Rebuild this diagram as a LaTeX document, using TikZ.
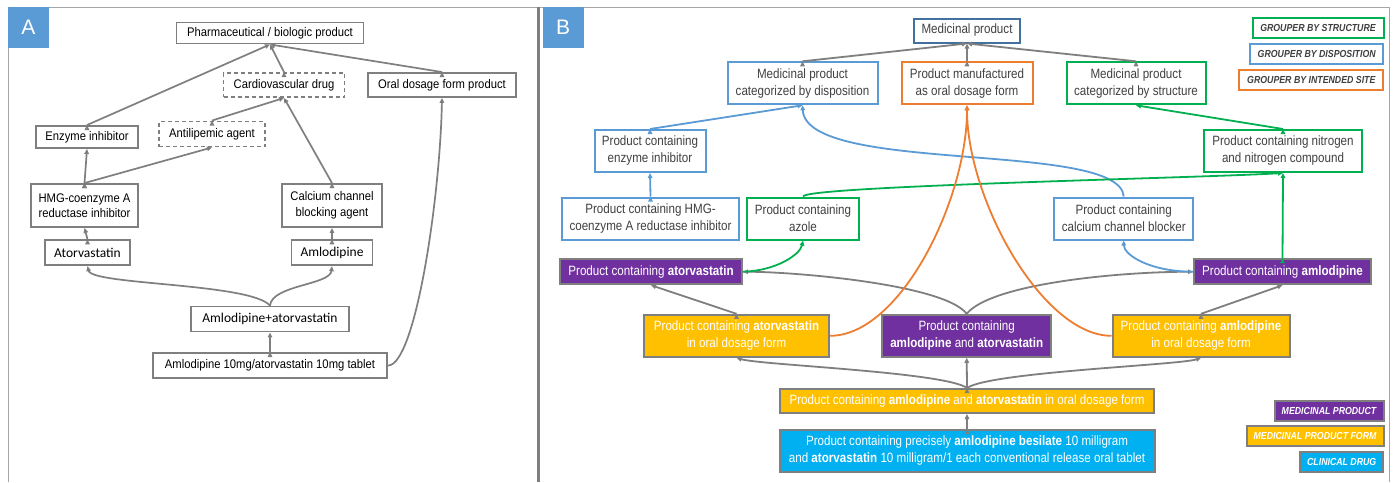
\documentclass[tikz,border=0pt]{standalone}
\usepackage{fontspec}
\setmainfont{Liberation Sans}
\newfontfamily\afont{Liberation Sans}[FakeStretch=0.9]
\newfontfamily\bfont{Liberation Sans}[FakeStretch=0.86]
\newfontfamily\calfont{Carlito}
\usetikzlibrary{arrows.meta}
\definecolor{edgegray}{HTML}{7F7F7F}
\definecolor{framegray}{HTML}{A6A6A6}
\definecolor{txtgray}{HTML}{404040}
\definecolor{labelblue}{HTML}{5B9BD5}
\definecolor{dispblue}{HTML}{5B9BD5}
\definecolor{structgreen}{HTML}{00B050}
\definecolor{siteorange}{HTML}{ED7D31}
\definecolor{mpblue}{HTML}{41719C}
\definecolor{mppurple}{HTML}{7030A0}
\definecolor{mpfyellow}{HTML}{FFC000}
\definecolor{cdcyan}{HTML}{00B0F0}

\begin{document}
\begin{tikzpicture}[x=1pt,y=-1pt]
	\tikzstyle{box_a} = [rectangle,draw=edgegray,line width=1.9pt,inner sep=1pt,align=center,text=black,font=\afont\fontsize{12.5}{15.5}\selectfont]
	\tikzstyle{box_c} = [box_a,font=\calfont\fontsize{13.5}{16}\selectfont]
	\tikzstyle{dash_a} = [box_a,dash pattern=on 4pt off 3pt]
	\tikzstyle{box_b} = [rectangle,line width=2pt,inner sep=1pt,align=center,text=txtgray,font=\bfont\fontsize{13.5}{17}\selectfont]
	\tikzstyle{fill_b} = [box_b,draw=edgegray,text=white]
	\tikzstyle{legend_b} = [rectangle,line width=2pt,inner sep=1pt,minimum height=20,text=txtgray,font=\bfont\fontsize{10.2}{12}\bfseries\itshape]
	\tikzstyle{label_box} = [rectangle,fill=labelblue,minimum width=41,minimum height=41,inner sep=0pt,text=white,font=\fontsize{21}{21}\selectfont]
	\tikzstyle{edge_a} = [draw=edgegray,line width=1.7pt,-{Triangle[length=5pt,width=4.5pt]}]
	\tikzstyle{edge_b} = [line width=1.8pt,-{Triangle[length=5pt,width=4.5pt]}]
	\useasboundingbox (0,0) rectangle (1400,482);
	\fill[white] (0,0) rectangle (1400,482);
	% frames
	\draw[framegray,line width=1pt] (8,482) -- (8,7) -- (1389,7) -- (1389,482);
	\draw[edgegray,line width=3pt] (538.5,7) -- (538.5,482);
	\node[label_box] (lab_a) at (28.5,27.5) {A};
	\node[label_box] (lab_b) at (563,27.5) {B};
	% panel A
	\node[box_a,minimum width=187,minimum height=21] (a_pharma) at (270,33) {Pharmaceutical / biologic product};
	\node[dash_a,minimum width=121,minimum height=24] (a_cardio) at (284,85) {Cardiovascular drug};
	\node[box_a,minimum width=148,minimum height=24] (a_oral) at (442,85) {Oral dosage form product};
	\node[box_a,minimum width=102,minimum height=22] (a_enzyme) at (87,137) {Enzyme inhibitor};
	\node[dash_a,minimum width=106,minimum height=25] (a_antilip) at (212,134) {Antilipemic agent};
	\node[box_a,minimum width=107,minimum height=43] (a_hmg) at (84.5,205.5) {HMG-coenzyme A\\reductase inhibitor};
	\node[box_a,minimum width=100,minimum height=43] (a_ccb) at (332,205.5) {Calcium channel\\blocking agent};
	\node[box_c,minimum width=85,minimum height=25] (a_ator) at (87.5,252.7) {Atorvastatin};
	\node[box_c,minimum width=81,minimum height=25] (a_amlo) at (332,252.7) {Amlodipine};
	\node[box_c,minimum width=158,minimum height=25] (a_combo) at (270,319) {Amlodipine+atorvastatin};
	\node[box_a,minimum width=234,minimum height=25] (a_tablet) at (270,365.5) {Amlodipine 10mg/atorvastatin 10mg tablet};
	\draw[edge_a] (a_enzyme.north) edge (a_pharma.south);
	\draw[edge_a] (a_cardio.north) edge (a_pharma.south);
	\draw[edge_a] (a_oral.north) edge (a_pharma.south);
	\draw[edge_a] (a_hmg.north) edge (a_enzyme.south);
	\draw[edge_a] (a_hmg.north) edge (a_antilip.south);
	\draw[edge_a] (a_antilip.north) edge (a_cardio.south);
	\draw[edge_a] (a_ccb.north) edge (a_cardio.south);
	\draw[edge_a] (a_ator.north) edge (a_hmg.south);
	\draw[edge_a] (a_amlo.north) edge (a_ccb.south);
	\draw[edge_a] (a_tablet.north) edge (a_combo.south);
	\draw[edge_a] (a_combo.north) .. controls (250,283) and (92,285) .. (a_ator.south);
	\draw[edge_a] (a_combo.north) .. controls (272,285) and (330,285) .. (a_amlo.south);
	\draw[edge_a] (a_tablet.east) .. controls (415,366) and (440,200) .. (a_oral.south);
	% panel B
	\node[box_b,draw=mpblue,minimum width=106,minimum height=24] (b_mp) at (967,30.5) {Medicinal product};
	\node[box_b,draw=dispblue,minimum width=150,minimum height=42] (b_disp) at (802.5,83.3) {Medicinal product\\categorized by disposition};
	\node[box_b,draw=siteorange,minimum width=131,minimum height=42] (b_oral) at (967,83.3) {Product manufactured\\as oral dosage form};
	\node[box_b,draw=structgreen,minimum width=139,minimum height=42] (b_struct) at (1136,83.3) {Medicinal product\\categorized by structure};
	\node[box_b,draw=dispblue,minimum width=111,minimum height=42] (b_enz) at (650,151) {Product containing\\enzyme inhibitor};
	\node[box_b,draw=structgreen,minimum width=158,minimum height=42] (b_nitro) at (1283,151) {Product containing nitrogen\\and nitrogen compound};
	\node[box_b,draw=dispblue,minimum width=177,minimum height=42] (b_hmg) at (650.5,218.5) {Product containing HMG-\\coenzyme A reductase inhibitor};
	\node[box_b,draw=structgreen,minimum width=112,minimum height=42] (b_azole) at (803,218.5) {Product containing\\azole};
	\node[box_b,draw=dispblue,minimum width=139,minimum height=42] (b_ccb) at (1123.7,218.5) {Product containing\\calcium channel blocker};
	\node[fill_b,fill=mppurple,minimum width=182,minimum height=25] (b_ator) at (651,271.7) {Product containing \textbf{atorvastatin}};
	\node[fill_b,fill=mppurple,minimum width=177,minimum height=25] (b_amlo) at (1282.5,271.7) {Product containing \textbf{amlodipine}};
	\node[fill_b,fill=mpfyellow,minimum width=185,minimum height=42] (b_ator_oral) at (736.5,335.8) {Product containing \textbf{atorvastatin}\\in oral dosage form};
	\node[fill_b,fill=mppurple,minimum width=169,minimum height=42] (b_combo) at (966.7,335.8) {Product containing\\\textbf{amlodipine} and \textbf{atorvastatin}};
	\node[fill_b,fill=mpfyellow,minimum width=177,minimum height=42] (b_amlo_oral) at (1201,335.8) {Product containing \textbf{amlodipine}\\in oral dosage form};
	\node[fill_b,fill=mpfyellow,minimum width=374,minimum height=24] (b_combo_oral) at (967,401) {Product containing \textbf{amlodipine} and \textbf{atorvastatin} in oral dosage form};
	\node[fill_b,fill=cdcyan,minimum width=375,minimum height=42] (b_clin) at (967,451) {Product containing precisely \textbf{amlodipine besilate} 10 milligram\\and \textbf{atorvastatin} 10 milligram/1 each conventional release oral tablet};
	% legend
	\node[legend_b,draw=structgreen,minimum width=131] (l_struct) at (1318,28.3) {GROUPER BY STRUCTURE};
	\node[legend_b,draw=dispblue,minimum width=133] (l_disp) at (1316.7,54) {GROUPER BY DISPOSITION};
	\node[legend_b,draw=siteorange,minimum width=144] (l_site) at (1311.3,80) {GROUPER BY INTENDED SITE};
	\node[legend_b,draw=edgegray,fill=mppurple,text=white,minimum width=109] (l_mp) at (1329,410.7) {MEDICINAL PRODUCT};
	\node[legend_b,draw=edgegray,fill=mpfyellow,text=white,minimum width=137] (l_mpf) at (1315,436) {MEDICINAL PRODUCT FORM};
	\node[legend_b,draw=edgegray,fill=cdcyan,text=white,minimum width=83] (l_cd) at (1341.7,462) {CLINICAL DRUG};
	% gray links
	\draw[edge_b,edgegray] (b_disp.north) edge (b_mp.south);
	\draw[edge_b,edgegray] (b_oral.north) edge (b_mp.south);
	\draw[edge_b,edgegray] (b_struct.north) edge (b_mp.south);
	\draw[edge_b,edgegray] (b_ator_oral.north) edge (b_ator.south);
	\draw[edge_b,edgegray] (b_amlo_oral.north) edge (b_amlo.south);
	\draw[edge_b,edgegray] (b_combo_oral.north) edge (b_combo.south);
	\draw[edge_b,edgegray] (b_clin.north) edge (b_combo_oral.south);
	\draw[edge_b,edgegray] (b_combo.north) .. controls (945,285) and (800,272) .. (b_ator.east);
	\draw[edge_b,edgegray] (b_combo.north) .. controls (990,285) and (1110,272) .. (b_amlo.west);
	\draw[edge_b,edgegray] (b_combo_oral.north) .. controls (945,372) and (760,365) .. (b_ator_oral.south);
	\draw[edge_b,edgegray] (b_combo_oral.north) .. controls (990,372) and (1180,365) .. (b_amlo_oral.south);
	% disposition links
	\draw[edge_b,dispblue] (b_enz.north) edge (b_disp.south);
	\draw[edge_b,dispblue] (b_hmg.north) edge (b_enz.south);
	\draw[edge_b,dispblue] (b_ccb.north) .. controls (1120,140) and (806,175) .. (b_disp.south);
	\draw[edge_b,dispblue] (b_amlo.west) .. controls (1150,271.7) and (1124,255) .. (b_ccb.south);
	% structure links
	\draw[edge_b,structgreen] (b_nitro.north) edge (b_struct.south);
	\draw[edge_b,structgreen] (b_amlo.north) edge (b_nitro.south);
	\draw[edge_b,structgreen] (b_azole.north) .. controls (805,186) and (1200,178) .. (b_nitro.south);
	\draw[edge_b,structgreen] (b_ator.east) .. controls (775,271) and (800,255) .. (b_azole.south);
	% intended site links
	\draw[edge_b,siteorange] (b_ator_oral.east) .. controls (900,336) and (967,200) .. (b_oral.south);
	\draw[edge_b,siteorange] (b_amlo_oral.west) .. controls (1043,336) and (967,200) .. (b_oral.south);
\end{tikzpicture}
\end{document}
